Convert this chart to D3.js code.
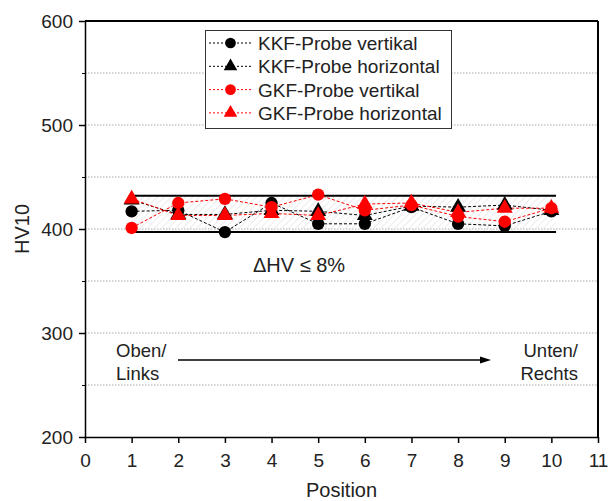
<!DOCTYPE html>
<html><head><meta charset="utf-8">
<script src="https://cdn.jsdelivr.net/npm/d3@7"></script>
<style>body{margin:0;background:#fff}svg{display:block}text{font-family:"Liberation Sans",Arial,sans-serif}</style>
</head><body>
<script>
const positions = [1,2,3,4,5,6,7,8,9,10];
const kkfVertikal   = [417,418,397,425,405,405,421,405,403,417];
const kkfHorizontal = [428,414,414,418,417,413,422,421,423,418];
const gkfVertikal   = [401,425,429,421,433,418,423,412,407,420];
const gkfHorizontal = [429,413,413,415,413,424,425,416,420,420];
const seriesNames = ["KKF-Probe vertikal","KKF-Probe horizontal","GKF-Probe vertikal","GKF-Probe horizontal"];
const bandLimits = [397, 432];
const xTicks = [0,1,2,3,4,5,6,7,8,9,10,11];
const yTicks = [200,300,400,500,600];
const yMinor = [250,350,450,550];

const W=608,H=501;
const svg=d3.select("body").append("svg").attr("width",W).attr("height",H);
const x=d3.scaleLinear().domain([0,11]).range([85,598]);
const y=d3.scaleLinear().domain([200,600]).range([437,21]);

const defs=svg.append("defs");
const pat=defs.append("pattern").attr("id","hatch").attr("patternUnits","userSpaceOnUse").attr("width",5).attr("height",5).attr("patternTransform","rotate(45)");
pat.append("line").attr("x1",0).attr("y1",0).attr("x2",0).attr("y2",5).attr("stroke","#e6e6e6").attr("stroke-width",1.5);

// gridlines
svg.append("g").selectAll("line").data(yTicks.slice(1,-1).concat(yMinor)).join("line")
 .attr("x1",x(0)).attr("x2",x(11)).attr("y1",d=>y(d)).attr("y2",d=>y(d))
 .attr("stroke","#aaa").attr("stroke-width",1).attr("stroke-dasharray","1.5,1.5");

// band
svg.append("rect").attr("x",x(1)).attr("width",x(10.1)-x(1)).attr("y",y(bandLimits[1])).attr("height",y(bandLimits[0])-y(bandLimits[1])).attr("fill","url(#hatch)");
svg.append("g").selectAll("line").data(bandLimits).join("line")
 .attr("x1",x(1)).attr("x2",x(10.1)).attr("y1",d=>y(d)).attr("y2",d=>y(d))
 .attr("stroke","#000").attr("stroke-width",2);

// axes
const xAxis=svg.append("g").attr("transform",`translate(0,${y(200)})`)
 .call(d3.axisBottom(x).tickValues(xTicks).tickSize(6).tickSizeOuter(0));
const yAxis=svg.append("g").attr("transform",`translate(${x(0)},0)`)
 .call(d3.axisLeft(y).tickValues(yTicks).tickSize(6).tickSizeOuter(0));
svg.append("g").attr("transform",`translate(${x(0)},0)`)
 .call(d3.axisLeft(y).tickValues(yMinor).tickSize(3).tickFormat("")).select(".domain").remove();
[xAxis,yAxis].forEach(a=>{a.selectAll("text").attr("font-size",19).attr("fill","#222");a.selectAll("line,path").attr("stroke","#000").attr("stroke-width",1.5);});
xAxis.selectAll("text").attr("dy","1.1em");
yAxis.selectAll("text").attr("dx","-3");
svg.append("line").attr("x1",x(0)).attr("x2",x(11)).attr("y1",y(600)).attr("y2",y(600)).attr("stroke","#000").attr("stroke-width",2);
svg.append("line").attr("x1",x(11)).attr("x2",x(11)).attr("y1",y(600)).attr("y2",y(200)).attr("stroke","#000").attr("stroke-width",2);

// titles
svg.append("text").attr("x",x(5.5)).attr("y",497).attr("text-anchor","middle").attr("font-size",20).attr("fill","#222").text("Position");
svg.append("text").attr("transform",`translate(29,${y(400)}) rotate(-90)`).attr("text-anchor","middle").attr("font-size",20).attr("fill","#222").text("HV10");

// series
const series=[
 {name:seriesNames[0],vals:kkfVertikal,color:"#000",shape:"circle"},
 {name:seriesNames[1],vals:kkfHorizontal,color:"#000",shape:"triangle"},
 {name:seriesNames[2],vals:gkfVertikal,color:"#ff0000",shape:"circle"},
 {name:seriesNames[3],vals:gkfHorizontal,color:"#ff0000",shape:"triangle"}
];
const sym={circle:d3.symbol().type(d3.symbolCircle).size(120),triangle:d3.symbol().type(d3.symbolTriangle).size(110)};
const line=d3.line().x((d,i)=>x(positions[i])).y(d=>y(d));
series.forEach(s=>{
 svg.append("path").attr("d",line(s.vals)).attr("fill","none").attr("stroke",s.color).attr("stroke-width",1).attr("stroke-dasharray","3,2");
});
series.forEach(s=>{
 svg.append("g").selectAll("path").data(s.vals).join("path")
  .attr("transform",(d,i)=>`translate(${x(positions[i])},${y(d)})`)
  .attr("d",sym[s.shape]).attr("fill",s.color);
});

// legend
const lg=svg.append("g");
lg.append("rect").attr("x",205.5).attr("y",30.5).attr("width",246).attr("height",98).attr("fill","#fff").attr("stroke","#333").attr("stroke-width",1);
series.forEach((s,i)=>{
 const yy=43+i*23.3;
 lg.append("line").attr("x1",209).attr("x2",252).attr("y1",yy).attr("y2",yy).attr("stroke",s.color).attr("stroke-width",1).attr("stroke-dasharray","2,2");
 lg.append("path").attr("transform",`translate(230.5,${yy})`).attr("d",d3.symbol().type(s.shape==="circle"?d3.symbolCircle:d3.symbolTriangle).size(s.shape==="circle"?90:80)).attr("fill",s.color);
 lg.append("text").attr("x",258).attr("y",yy+7).attr("font-size",19).attr("fill","#222").text(s.name);
});

// annotations
svg.append("text").attr("x",253).attr("y",272).attr("font-size",20).attr("fill","#222").text("ΔHV ≤ 8%");
svg.append("text").attr("x",116).attr("y",357).attr("font-size",18.5).attr("fill","#222").text("Oben/");
svg.append("text").attr("x",116).attr("y",380).attr("font-size",18.5).attr("fill","#222").text("Links");
svg.append("text").attr("x",578).attr("y",357).attr("text-anchor","end").attr("font-size",18.5).attr("fill","#222").text("Unten/");
svg.append("text").attr("x",578).attr("y",380).attr("text-anchor","end").attr("font-size",18.5).attr("fill","#222").text("Rechts");
svg.append("line").attr("x1",178).attr("x2",482).attr("y1",360).attr("y2",360).attr("stroke","#000").attr("stroke-width",1.3);
svg.append("path").attr("d","M491,360 L480,356.5 L480,363.5 Z").attr("fill","#000");
</script>
</body></html>
